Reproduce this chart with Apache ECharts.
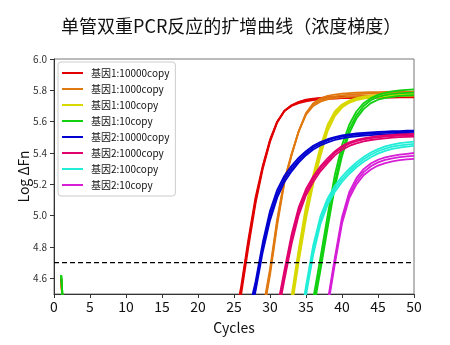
<!DOCTYPE html>
<html>
<head>
<meta charset="utf-8">
<script src="https://cdn.jsdelivr.net/npm/echarts@6/dist/echarts.min.js"></script>
<style>
  html, body { margin: 0; padding: 0; background: #fff; }
  #chart { width: 450px; height: 345px; }
</style>
</head>
<body>
<div id="chart"></div>
<script>
// Amplification curves of a duplex PCR run, concentration series (3 replicate wells each)
const groupNames = [
  '基因1:10000copy', '基因1:1000copy', '基因1:100copy', '基因1:10copy',
  '基因2:10000copy', '基因2:1000copy', '基因2:100copy', '基因2:10copy'
];
const groupColors = [
  '#e00000', '#e07a10', '#d8d800', '#10d010',
  '#0000d0', '#e0006e', '#22eed8', '#d61ed6'
];
// first cycle listed in each group's replicate readings
const startCycles = [25, 29, 32, 35, 27, 31, 34, 37];

// cycle 1 and 2 readings (only wells whose first reading reaches the plot range)
const earlyCycles = [1, 2];
const earlyReadings = [[4.60, 3.9], [4.58, 3.9], null, [4.62, 3.9], null, null, null, null];

// Log ΔFn readings, one row per replicate well
const gene1_10000 = [
  [4.28, 4.53, 4.83, 5.10, 5.31, 5.48, 5.60, 5.67, 5.705, 5.725, 5.737, 5.744, 5.749, 5.752, 5.754, 5.755, 5.756, 5.757, 5.758, 5.758, 5.759, 5.759, 5.760, 5.760, 5.760, 5.761],
  [4.26, 4.50, 4.80, 5.08, 5.30, 5.47, 5.595, 5.668, 5.705, 5.727, 5.740, 5.747, 5.752, 5.756, 5.758, 5.760, 5.761, 5.762, 5.763, 5.763, 5.764, 5.764, 5.765, 5.765, 5.765, 5.766],
  [4.30, 4.55, 4.85, 5.12, 5.32, 5.485, 5.60, 5.668, 5.700, 5.718, 5.730, 5.737, 5.742, 5.746, 5.748, 5.750, 5.751, 5.752, 5.752, 5.753, 5.753, 5.754, 5.754, 5.755, 5.755, 5.756]
];
const gene1_1000 = [
  [4.36, 4.62, 4.94, 5.21, 5.385, 5.54, 5.655, 5.718, 5.748, 5.764, 5.773, 5.779, 5.782, 5.785, 5.787, 5.788, 5.789, 5.790, 5.791, 5.791, 5.792, 5.792],
  [4.38, 4.64, 4.96, 5.22, 5.39, 5.54, 5.65, 5.71, 5.738, 5.752, 5.762, 5.768, 5.772, 5.775, 5.777, 5.779, 5.780, 5.781, 5.782, 5.783, 5.784, 5.785],
  [4.40, 4.66, 4.98, 5.23, 5.395, 5.54, 5.645, 5.70, 5.728, 5.742, 5.750, 5.755, 5.759, 5.762, 5.764, 5.766, 5.767, 5.768, 5.769, 5.770, 5.771, 5.772]
];
const gene1_100 = [
  [4.26, 4.49, 4.79, 5.06, 5.26, 5.44, 5.58, 5.665, 5.71, 5.735, 5.750, 5.760, 5.766, 5.770, 5.773, 5.775, 5.777, 5.778, 5.779],
  [4.22, 4.45, 4.75, 5.02, 5.23, 5.41, 5.56, 5.65, 5.70, 5.728, 5.745, 5.755, 5.760, 5.764, 5.767, 5.769, 5.771, 5.772, 5.773],
  [4.19, 4.41, 4.71, 4.98, 5.20, 5.38, 5.54, 5.635, 5.69, 5.720, 5.737, 5.747, 5.753, 5.757, 5.760, 5.762, 5.764, 5.765, 5.766]
];
const gene1_10 = [
  [4.22, 4.47, 4.73, 5.00, 5.26, 5.45, 5.58, 5.665, 5.718, 5.750, 5.771, 5.784, 5.793, 5.799, 5.803, 5.806],
  [4.17, 4.42, 4.68, 4.95, 5.21, 5.41, 5.55, 5.64, 5.70, 5.737, 5.758, 5.770, 5.777, 5.781, 5.784, 5.786],
  [4.15, 4.39, 4.65, 4.92, 5.18, 5.38, 5.525, 5.62, 5.68, 5.718, 5.740, 5.752, 5.759, 5.764, 5.767, 5.770]
];
const gene2_10000 = [
  [4.38, 4.58, 4.83, 5.03, 5.165, 5.255, 5.318, 5.370, 5.412, 5.446, 5.470, 5.488, 5.502, 5.512, 5.519, 5.525, 5.529, 5.532, 5.535, 5.537, 5.539, 5.540, 5.542, 5.543],
  [4.35, 4.55, 4.80, 5.00, 5.14, 5.235, 5.30, 5.355, 5.40, 5.435, 5.46, 5.48, 5.495, 5.505, 5.512, 5.517, 5.521, 5.524, 5.527, 5.529, 5.531, 5.533, 5.534, 5.535],
  [4.32, 4.52, 4.77, 4.97, 5.115, 5.215, 5.283, 5.340, 5.386, 5.422, 5.448, 5.468, 5.483, 5.494, 5.501, 5.507, 5.511, 5.514, 5.517, 5.519, 5.521, 5.523, 5.524, 5.525]
];
const gene2_1000 = [
  [4.41, 4.65, 4.88, 5.055, 5.17, 5.25, 5.315, 5.365, 5.41, 5.445, 5.468, 5.483, 5.494, 5.502, 5.508, 5.512, 5.515, 5.518, 5.520, 5.522],
  [4.38, 4.62, 4.85, 5.03, 5.15, 5.235, 5.30, 5.35, 5.40, 5.435, 5.46, 5.475, 5.487, 5.495, 5.500, 5.505, 5.508, 5.511, 5.513, 5.515],
  [4.35, 4.59, 4.82, 5.005, 5.13, 5.215, 5.283, 5.335, 5.385, 5.42, 5.445, 5.462, 5.474, 5.483, 5.489, 5.494, 5.498, 5.501, 5.503, 5.505]
];
const gene2_100 = [
  [4.27, 4.55, 4.81, 4.995, 5.11, 5.19, 5.25, 5.298, 5.34, 5.375, 5.403, 5.425, 5.442, 5.454, 5.463, 5.468, 5.472],
  [4.25, 4.52, 4.78, 4.97, 5.09, 5.17, 5.232, 5.282, 5.325, 5.36, 5.389, 5.411, 5.428, 5.440, 5.449, 5.454, 5.458],
  [4.22, 4.49, 4.75, 4.945, 5.07, 5.152, 5.215, 5.266, 5.309, 5.344, 5.373, 5.396, 5.413, 5.426, 5.435, 5.441, 5.445]
];
const gene2_10 = [
  [4.22, 4.45, 4.73, 4.99, 5.15, 5.24, 5.297, 5.333, 5.357, 5.372, 5.382, 5.390, 5.395, 5.400],
  [4.20, 4.43, 4.71, 4.97, 5.13, 5.22, 5.278, 5.315, 5.340, 5.356, 5.366, 5.373, 5.378, 5.382],
  [4.18, 4.41, 4.69, 4.95, 5.11, 5.20, 5.258, 5.295, 5.320, 5.336, 5.347, 5.354, 5.359, 5.363]
];

const threshold = 4.7;
const yTicks = [4.6, 4.8, 5.0, 5.2, 5.4, 5.6, 5.8, 6.0];

const groups = [gene1_10000, gene1_1000, gene1_100, gene1_10,
                gene2_10000, gene2_1000, gene2_100, gene2_10];

const series = [];
groups.forEach(function (wells, g) {
  wells.forEach(function (readings) {
    const data = [];
    if (earlyReadings[g]) {
      earlyCycles.forEach(function (c, k) { data.push([c, earlyReadings[g][k]]); });
    }
    readings.forEach(function (v, i) { data.push([startCycles[g] + i, v]); });
    series.push({
      name: groupNames[g],
      type: 'line',
      data: data,
      showSymbol: false,
      symbol: 'none',
      clip: true,
      lineStyle: { color: groupColors[g], width: 1.8 },
      itemStyle: { color: groupColors[g] },
      emphasis: { disabled: true }
    });
  });
});

// threshold line
series.push({
  name: 'threshold',
  type: 'line',
  data: [[0, threshold], [50, threshold]],
  symbol: 'none',
  silent: true,
  z: 5,
  lineStyle: { color: '#000', width: 1.4, type: [5, 3] }
});

const font = "'Noto Sans CJK SC', 'Noto Sans', sans-serif";
const chart = echarts.init(document.getElementById('chart'), null, { renderer: 'canvas' });
chart.setOption({
  animation: false,
  backgroundColor: '#fff',
  textStyle: { fontFamily: font },
  title: {
    text: '单管双重PCR反应的扩增曲线（浓度梯度）',
    left: 56,
    top: 12,
    textStyle: { fontSize: 18, fontWeight: 'normal', color: '#111', fontFamily: font }
  },
  grid: {
    left: 54, right: 36, top: 59, bottom: 51,
    show: true, borderColor: '#777', borderWidth: 1, backgroundColor: 'transparent'
  },
  legend: {
    data: groupNames,
    orient: 'vertical',
    left: 58, top: 62,
    padding: [5, 6, 5, 4],
    itemWidth: 21, itemHeight: 2,
    itemGap: 4,
    icon: 'rect',
    backgroundColor: '#fff',
    borderColor: '#ccc', borderWidth: 1, borderRadius: 3,
    textStyle: { fontSize: 10, color: '#111', fontFamily: font, lineHeight: 12, padding: [0, 0, 0, 3] }
  },
  xAxis: {
    type: 'value',
    min: 0, max: 50, interval: 5,
    name: 'Cycles',
    nameLocation: 'middle',
    nameGap: 27,
    nameMoveOverlap: false,
    nameTextStyle: { fontSize: 14, color: '#111', fontFamily: font },
    axisLine: { show: true, lineStyle: { color: '#333' } },
    axisTick: { show: true, length: 4, lineStyle: { color: '#333' } },
    axisLabel: { fontSize: 14, color: '#111', margin: 6, fontFamily: font },
    splitLine: { show: false }
  },
  yAxis: {
    type: 'value',
    min: 4.5, max: 6.0,
    name: 'Log ΔFn',
    nameLocation: 'middle',
    nameGap: 23,
    nameMoveOverlap: false,
    nameTextStyle: { fontSize: 14, color: '#111', fontFamily: font },
    axisLine: { show: true, lineStyle: { color: '#333' } },
    axisTick: { show: true, length: 4, customValues: yTicks, lineStyle: { color: '#333' } },
    axisLabel: {
      fontSize: 10, color: '#333', margin: 7, fontFamily: font,
      customValues: yTicks,
      formatter: function (v) { return Number(v).toFixed(1); }
    },
    splitLine: { show: false }
  },
  series: series
});
</script>
</body>
</html>
